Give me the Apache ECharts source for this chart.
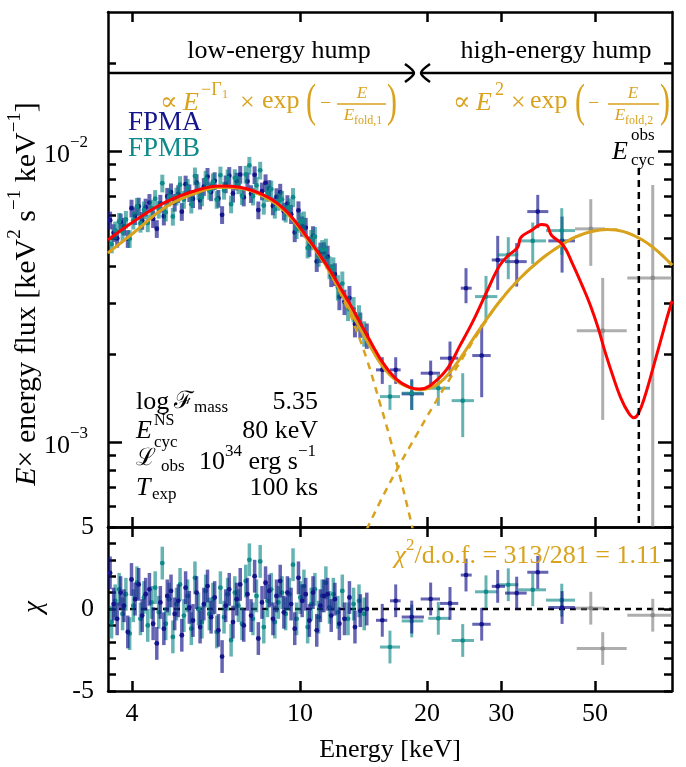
<!DOCTYPE html>
<html><head><meta charset="utf-8">
<script src="https://cdn.jsdelivr.net/npm/echarts@6/dist/echarts.min.js"></script>
<style>html,body{margin:0;padding:0;background:#fff}#c{width:686px;height:767px}</style>
</head><body><div id="c"></div>
<script>
// ---------------- data ----------------
const U = 1e-3; // flux values below are in units of 1e-3 keV^2 s^-1 keV^-1
const xTicks = [4, 10, 20, 30, 50];
const yMajorTicks = [1e-3, 1e-2];
const yMinorTicks = [6e-4, 7e-4, 8e-4, 9e-4, 2e-3, 3e-3, 4e-3, 5e-3, 6e-3, 7e-3, 8e-3, 9e-3, 2e-2];
const residTickLabels = [-5, 0, 5];
const X_MIN = 3.51, X_MAX = 76.1, Y_MIN = 5.1e-4, Y_MAX = 3.0e-2;
const eCycObs = 63.5;

const modelRedE = [3.51,4.03,4.83,5.80,6.46,7.21,8.34,9.30,10.37,11.57,12.44,13.13,13.87,14.93,15.76,16.94,18.20,19.20,20.32,22.25,23.97,25.74,27.76,29.67,31.06,32.78,33.40,35.35,37.32,38.36,39.43,42.07,44.21,46.61,48.74,50.93,52.76,55.0,57.5,60.0,61.8,63.3,65.5,68.74,73.95,76.12];
const modelRedF = [4.94,5.71,6.69,7.38,7.58,7.50,6.97,6.19,5.08,4.05,3.40,2.98,2.58,2.12,1.86,1.64,1.54,1.52,1.56,1.77,2.15,2.61,3.30,4.02,4.35,4.66,5.05,5.33,5.58,5.56,5.13,4.73,4.10,3.45,2.95,2.45,2.05,1.70,1.42,1.26,1.21,1.25,1.42,1.81,2.65,3.05];
const modelGoldE = [3.51,4.03,4.83,5.80,6.46,7.21,8.34,9.30,10.37,11.57,12.90,13.87,14.70,15.47,16.30,17.26,18.30,19.25,20.30,21.47,22.70,23.94,26.71,29.78,33.21,37.32,41.32,44.86,49.0,53.5,58.5,64.61,70.0,76.12];
const modelGoldF = [4.46,5.22,6.44,7.25,7.50,7.44,6.88,6.11,5.01,4.00,3.00,2.45,2.12,1.87,1.70,1.59,1.53,1.51,1.53,1.60,1.74,1.93,2.45,3.05,3.65,4.25,4.72,5.05,5.28,5.37,5.28,4.95,4.55,4.05];
const lowCompE = [3.51,4.03,4.83,5.80,6.46,7.21,8.34,9.30,10.37,11.57,12.90,13.38,14.39,15.47,16.34,17.26,18.23,18.56];
const lowCompF = [4.46,5.22,6.44,7.25,7.50,7.44,6.88,6.11,5.01,3.98,2.92,2.58,1.93,1.36,1.03,0.76,0.55,0.49];
const highCompE = [14.39,15.76,17.26,18.91,20.70,22.67,24.38,26.71,29.78,33.21,37.32,41.32,44.86,49.0,53.5,58.5,64.61,70.0,76.12];
const highCompF = [0.50,0.655,0.84,1.06,1.33,1.65,1.96,2.42,3.05,3.65,4.25,4.72,5.05,5.28,5.37,5.28,4.95,4.55,4.05];

// FPMA, densely binned part
const fpmaDenseE = [3.55,3.62,3.69,3.76,3.83,3.91,3.99,4.07,4.15,4.23,4.31,4.40,4.49,4.58,4.67,4.76,4.85,4.95,5.05,5.15,5.25,5.36,5.47,5.58,5.69,5.80,5.92,6.04,6.16,6.28,6.41,6.54,6.67,6.80,6.94,7.08,7.22,7.36,7.51,7.66,7.81,7.97,8.13,8.29,8.46,8.63,8.80,8.98,9.16,9.34,9.53,9.72,9.92,10.12,10.32,10.53,10.74,10.96,11.18,11.40,11.63,11.86,12.10,12.40,12.75,13.10,13.50,13.90,14.40];
const fpmaDenseF = [5.78,5.23,5.00,5.69,5.50,4.99,6.35,5.98,6.45,5.76,6.40,6.64,5.84,5.40,6.60,5.96,6.97,7.22,6.65,7.12,6.18,7.68,7.17,6.84,7.77,6.76,7.53,8.16,7.22,7.89,6.86,6.03,7.69,8.22,7.14,7.86,8.29,6.93,7.86,7.12,8.27,6.26,7.27,7.76,7.41,6.46,6.95,7.20,6.20,6.58,6.06,5.25,6.24,5.51,5.45,4.70,5.10,4.17,4.48,4.49,4.33,3.74,3.77,3.15,3.03,3.12,2.54,2.53,2.32];
const fpmaDenseRelErr = [0.07,0.07,0.07,0.07,0.07,0.07,0.07,0.07,0.07,0.07,0.07,0.07,0.07,0.07,0.07,0.07,0.07,0.07,0.07,0.07,0.07,0.07,0.07,0.07,0.07,0.07,0.07,0.07,0.07,0.07,0.07,0.07,0.07,0.07,0.07,0.07,0.07,0.07,0.07,0.07,0.07,0.07,0.07,0.07,0.07,0.07,0.07,0.07,0.07,0.07,0.075,0.075,0.075,0.08,0.08,0.08,0.08,0.08,0.08,0.08,0.09,0.09,0.09,0.10,0.10,0.10,0.10,0.10,0.10];
const fpmaDenseChi = [2.2,0.3,-0.6,1.0,0.2,-1.4,1.8,0.6,1.5,-0.4,0.9,1.2,-0.9,-2.1,0.4,-1.2,0.8,1.1,-0.3,0.5,-1.6,1.3,0.1,-0.7,1.0,-1.1,0.3,1.4,-0.5,0.7,-1.3,-2.9,0.2,1.2,-0.8,0.6,1.5,-1.0,0.9,-0.4,2.0,-1.8,0.4,1.6,1.1,-0.6,0.8,1.7,-0.2,1.0,0.3,-1.2,1.9,0.5,0.9,-0.7,1.0,-1.3,0.2,0.8,0.9,-0.4,0.6,-0.9,-0.6,0.7,-1.1,-0.1,0.0];

// FPMA, wide bins
const fpmaBinE   = [15.67,16.86,18.40,20.40,22.67,24.74,26.95,29.41,32.62,36.59,41.78];
const fpmaBinElo = [15.14,16.34,17.42,19.32,21.47,24.04,25.60,28.47,30.60,34.56,38.76];
const fpmaBinEhi = [16.10,17.32,19.67,21.47,23.72,25.52,28.31,30.60,34.45,38.76,44.84];
const fpmaBinF   = [1.768,1.768,1.462,1.722,1.939,3.374,1.980,4.219,4.163,6.185,4.905];
const fpmaBinFlo = [1.582,1.582,1.288,1.529,1.676,2.996,1.424,3.329,3.417,5.425,3.817];
const fpmaBinFhi = [1.954,1.954,1.642,1.902,2.212,3.953,2.523,5.104,4.817,7.060,5.946];
const fpmaBinChi = [-0.69,0.5,-0.49,0.61,0.34,2.07,-0.93,1.38,0.97,2.24,0.09];

// FPMB, densely binned part
const fpmbDenseE = [3.58,3.65,3.73,3.80,3.87,3.95,4.03,4.11,4.19,4.27,4.36,4.45,4.54,4.63,4.72,4.81,4.90,5.00,5.10,5.20,5.31,5.42,5.53,5.64,5.75,5.86,5.98,6.10,6.22,6.35,6.48,6.61,6.74,6.87,7.01,7.15,7.29,7.44,7.59,7.74,7.89,8.05,8.21,8.38,8.55,8.72,8.89,9.07,9.25,9.44,9.63,9.82,10.02,10.22,10.43,10.64,10.85,11.07,11.29,11.52,11.75,12.00,12.30,12.60,13.00,13.40,13.80,14.20];
const fpmbDenseF = [4.78,5.34,5.72,5.26,5.81,4.99,5.77,6.44,5.63,6.26,5.65,6.35,6.85,6.29,7.74,6.15,6.93,5.95,6.98,7.65,6.80,7.48,6.55,8.19,7.29,6.94,7.98,7.30,7.82,6.80,8.25,7.31,8.06,6.56,8.08,7.63,7.01,8.30,8.91,6.98,7.61,8.57,6.49,7.18,7.38,6.29,6.69,6.81,6.10,6.41,6.93,5.38,5.69,5.73,4.64,4.95,5.07,4.34,4.57,4.58,3.98,3.95,3.40,3.50,2.89,2.86,2.68,2.36];
const fpmbDenseRelErr = [0.07,0.07,0.07,0.07,0.07,0.07,0.07,0.07,0.07,0.07,0.07,0.07,0.07,0.07,0.07,0.07,0.07,0.07,0.07,0.07,0.07,0.07,0.07,0.07,0.07,0.07,0.07,0.07,0.07,0.07,0.07,0.07,0.07,0.07,0.07,0.07,0.07,0.07,0.07,0.07,0.07,0.07,0.07,0.07,0.07,0.07,0.07,0.07,0.07,0.07,0.075,0.075,0.08,0.08,0.08,0.08,0.08,0.08,0.08,0.09,0.09,0.09,0.10,0.10,0.10,0.10,0.10,0.10];
const fpmbDenseChi = [-0.8,0.5,1.2,-0.3,0.9,-1.5,0.2,1.6,-0.6,0.7,-1.0,0.4,1.3,-0.2,2.8,-0.9,0.6,-1.7,0.3,1.5,-0.4,0.8,-1.2,1.9,0.0,-0.8,1.1,-0.3,0.6,-1.4,1.3,-0.5,0.9,-1.9,1.0,0.2,-0.9,1.7,3.0,-0.6,0.8,2.9,-1.1,0.5,1.2,-0.8,0.4,1.0,-0.3,0.9,2.7,-0.6,0.7,1.4,-1.1,0.3,1.2,-0.5,0.8,1.6,0.1,0.9,-0.2,1.1,-0.6,0.3,0.5,-0.3];

// FPMB, wide bins
const fpmbBinE   = [16.34,18.40,21.27,24.30,27.59,31.16,35.60,41.71];
const fpmbBinElo = [15.47,17.42,20.14,22.88,25.98,29.35,32.90,38.28];
const fpmbBinEhi = [17.26,19.60,22.67,25.84,29.35,32.90,38.28,44.84];
const fpmbBinF   = [1.431,1.470,1.529,1.386,3.157,4.391,4.905,5.322];
const fpmbBinFlo = [1.288,1.288,1.330,1.038,2.625,3.623,4.089,4.391];
const fpmbBinFhi = [1.570,1.630,1.699,1.722,3.718,5.051,5.671,6.354];
const fpmbBinChi = [-2.32,-0.73,-0.57,-1.92,1.05,1.48,1.17,0.54];

// combined high-energy bins (grey)
const greyE   = [48.86,52.15,68.51];
const greyElo = [44.84,45.26,59.64];
const greyEhi = [52.81,59.45,81.7];
const greyF   = [5.395,2.411,3.660];
const greyFlo = [4.025,1.190,0.30];
const greyFhi = [6.823,3.660,7.640];
const greyChi = [0.05,-2.41,-0.38];

// ---------------- styling ----------------
const FF = '"Liberation Serif","DejaVu Serif",serif';
const GOLD = '#d9a21c';
const NAVY = '#14148c', TEAL = '#0f8a8a';
const NAVY_BAR = 'rgba(20,20,140,0.66)', TEAL_BAR = 'rgba(0,128,128,0.6)';
const GREY_BAR = 'rgba(120,120,120,0.6)', GREY_DOT = '#8a8a8a';

const denseRows = (E, F, R) => E.map((e, i) => [e, F[i]*U, F[i]*U*(1-R[i]), F[i]*U*(1+R[i]), e, e]);
const binRows = (E, Elo, Ehi, F, Flo, Fhi) => E.map((e, i) => [e, F[i]*U, Flo[i]*U, Fhi[i]*U, Elo[i], Ehi[i]]);
const resDense = (E, C) => E.map((e, i) => [e, C[i], e, e]);
const resBin = (E, Elo, Ehi, C) => E.map((e, i) => [e, C[i], Elo[i], Ehi[i]]);
const curve = (E, F) => E.map((e, i) => [e, F[i]*U]);

function errItem(bar, dot, lw, r) {
  return function (params, api) {
    const e = api.value(0), f = api.value(1), flo = api.value(2), fhi = api.value(3), elo = api.value(4), ehi = api.value(5);
    const c = api.coord([e, f]), a = api.coord([e, flo]), b = api.coord([e, fhi]);
    const ch = [{type: 'line', shape: {x1: a[0], y1: a[1], x2: b[0], y2: b[1]}, style: {stroke: bar, lineWidth: lw}}];
    if (ehi > elo) {
      const l = api.coord([elo, f]), rr = api.coord([ehi, f]);
      ch.push({type: 'line', shape: {x1: l[0], y1: l[1], x2: rr[0], y2: rr[1]}, style: {stroke: bar, lineWidth: lw}});
    }
    ch.push({type: 'circle', shape: {cx: c[0], cy: c[1], r: r}, style: {fill: dot}});
    return {type: 'group', children: ch};
  };
}
function resItem(bar, dot, lw, r) {
  return function (params, api) {
    const e = api.value(0), v = api.value(1), elo = api.value(2), ehi = api.value(3);
    const c = api.coord([e, v]), a = api.coord([e, v - 1]), b = api.coord([e, v + 1]);
    const ch = [{type: 'line', shape: {x1: a[0], y1: a[1], x2: b[0], y2: b[1]}, style: {stroke: bar, lineWidth: lw}}];
    if (ehi > elo) {
      const l = api.coord([elo, v]), rr = api.coord([ehi, v]);
      ch.push({type: 'line', shape: {x1: l[0], y1: l[1], x2: rr[0], y2: rr[1]}, style: {stroke: bar, lineWidth: lw}});
    }
    ch.push({type: 'circle', shape: {cx: c[0], cy: c[1], r: r}, style: {fill: dot}});
    return {type: 'group', children: ch};
  };
}
function customSeries(data, render, xi, yi, z) {
  return {type: 'custom', xAxisIndex: xi, yAxisIndex: yi, data: data, renderItem: render, clip: true, silent: true, z: z, encode: {x: 0, y: 1}};
}
function lineSeries(data, color, width, type, z) {
  return {type: 'line', xAxisIndex: 0, yAxisIndex: 0, data: data, showSymbol: false, symbol: 'none', silent: true,
    smooth: 0.4, clip: true, z: z, lineStyle: {color: color, width: width, type: type}};
}

const axLine = {show: true, onZero: false, lineStyle: {color: '#000', width: 2.5}};
function xAx(grid, pos, labels) {
  return {type: 'log', logBase: 10, gridIndex: grid, position: pos, min: X_MIN, max: X_MAX,
    axisLine: axLine, splitLine: {show: false},
    axisTick: {show: true, inside: true, length: 10, customValues: xTicks, lineStyle: {color: '#000', width: 2.5}},
    axisLabel: labels ? {show: true, customValues: xTicks, margin: 10, color: '#000', fontFamily: FF, fontSize: 26,
      formatter: v => String(Math.round(v))} : {show: false},
    name: labels ? 'Energy [keV]' : '', nameLocation: 'middle', nameGap: 46,
    nameTextStyle: {color: '#000', fontFamily: FF, fontSize: 26}};
}
function yLog(pos, ticks, len, labels, line) {
  return {type: 'log', logBase: 10, gridIndex: 0, position: pos, min: Y_MIN, max: Y_MAX,
    axisLine: line ? axLine : {show: false, onZero: false}, splitLine: {show: false},
    axisTick: {show: true, inside: true, length: len, customValues: ticks, lineStyle: {color: '#000', width: 2.5}},
    axisLabel: labels ? {show: true, customValues: yMajorTicks, margin: 20, color: '#000',
      formatter: v => '{b|10}{s|−' + Math.round(-Math.log10(v)) + '}',
      rich: {b: {fontFamily: FF, fontSize: 26, lineHeight: 34, verticalAlign: 'bottom'},
             s: {fontFamily: FF, fontSize: 17, lineHeight: 17, verticalAlign: 'top'}}} : {show: false}};
}
function yRes(pos, labels) {
  return {type: 'value', gridIndex: 1, position: pos, min: -5, max: 5, interval: 1,
    axisLine: axLine, splitLine: {show: false},
    axisTick: {show: true, inside: true, length: 8, lineStyle: {color: '#000', width: 2.5}},
    axisLabel: labels ? {show: true, customValues: residTickLabels, margin: 14, color: '#000', fontFamily: FF, fontSize: 26,
      formatter: v => (v < 0 ? '-' + Math.abs(v) : String(v))} : {show: false}};
}

// ---------------- annotations ----------------
function T(text, x, y, size, color, o) {
  o = o || {};
  const st = {text: text, fill: color, fontFamily: FF, fontSize: size, fontStyle: o.italic ? 'italic' : 'normal',
    align: o.align || 'left', textAlign: o.align || 'left', verticalAlign: 'middle', textVerticalAlign: 'middle'};
  if (o.rich) st.rich = o.rich;
  return {type: 'text', x: x, y: y, rotation: o.rot || 0, scaleX: o.sx || 1, scaleY: o.sy || 1, z: 200, silent: true, style: st};
}
function rs(size, extra) { return Object.assign({fontFamily: FF, fontSize: size}, extra || {}); }
const K = '#000';
const fracRich = {i: rs(17, {fontStyle: 'italic', lineHeight: 20, verticalAlign: 'top'}), s: rs(12, {lineHeight: 12, verticalAlign: 'bottom'})};
const graphics = [
  T('low-energy hump', 279, 51, 26, K, {align: 'center'}),
  T('high-energy hump', 556, 51, 26, K, {align: 'center'}),
  {type: 'line', z: 200, silent: true, shape: {x1: 108, y1: 73, x2: 414, y2: 73}, style: {stroke: K, lineWidth: 2.5}},
  {type: 'line', z: 200, silent: true, shape: {x1: 421, y1: 73, x2: 672, y2: 73}, style: {stroke: K, lineWidth: 2.5}},
  {type: 'polyline', z: 200, silent: true, shape: {points: [[405, 64], [414, 73], [405, 82]], smooth: 0.3}, style: {stroke: K, lineWidth: 2.5, fill: null}},
  {type: 'polyline', z: 200, silent: true, shape: {points: [[430, 64], [421, 73], [430, 82]], smooth: 0.3}, style: {stroke: K, lineWidth: 2.5, fill: null}},
  // left formula
  T('∝', 160, 103, 26, GOLD),
  T('E', 183, 103, 26, GOLD, {italic: true}),
  T('−Γ', 201, 90, 18, GOLD),
  T('1', 222, 95, 12, GOLD),
  T('×', 240, 103, 26, GOLD),
  T('exp', 262, 101, 26, GOLD),
  T('(', 306, 104, 30, GOLD, {sy: 1.55}),
  T('−', 320, 104, 20, GOLD),
  {type: 'line', z: 200, silent: true, shape: {x1: 337, y1: 104, x2: 386, y2: 104}, style: {stroke: GOLD, lineWidth: 1.3}},
  T('E', 362, 94, 17, GOLD, {italic: true, align: 'center'}),
  T('{i|E}{s|fold,1}', 363, 117, 17, GOLD, {align: 'center', rich: fracRich}),
  T(')', 387, 104, 30, GOLD, {sy: 1.55}),
  // right formula
  T('∝', 453, 103, 26, GOLD),
  T('E', 476, 103, 26, GOLD, {italic: true}),
  T('2', 495, 90, 18, GOLD),
  T('×', 511, 103, 26, GOLD),
  T('exp', 530, 101, 26, GOLD),
  T('(', 575, 104, 30, GOLD, {sy: 1.55}),
  T('−', 588, 104, 20, GOLD),
  {type: 'line', z: 200, silent: true, shape: {x1: 608, y1: 104, x2: 659, y2: 104}, style: {stroke: GOLD, lineWidth: 1.3}},
  T('E', 633, 94, 17, GOLD, {italic: true, align: 'center'}),
  T('{i|E}{s|fold,2}', 634, 117, 17, GOLD, {align: 'center', rich: fracRich}),
  T(')', 660, 104, 30, GOLD, {sy: 1.55}),
  // legend
  T('FPMA', 128, 123, 27, NAVY),
  T('FPMB', 128, 149, 27, TEAL),
  // E_cyc^obs
  T('E', 612, 152, 26, K, {italic: true}),
  T('obs', 631, 136, 17, K),
  T('cyc', 631, 161, 17, K),
  // parameter block
  T('log', 136, 402, 26, K),
  T('ℱ', 174, 402, 24, K),
  T('mass', 194, 408, 17, K),
  T('5.35', 318, 402, 26, K, {align: 'right'}),
  T('E', 136, 431, 26, K, {italic: true}),
  T('NS', 154, 421, 16, K),
  T('cyc', 154, 443, 17, K),
  T('80 keV', 318, 431, 26, K, {align: 'right'}),
  T('ℒ', 136, 459, 24, K),
  T('obs', 161, 467, 17, K),
  T('{b|10}{s|34}{b| erg s}{s|−1}', 316, 459, 26, K, {align: 'right', rich: {b: rs(26, {lineHeight: 32, verticalAlign: 'bottom'}), s: rs(17, {lineHeight: 17, verticalAlign: 'top'})}}),
  T('T', 136, 488, 26, K, {italic: true}),
  T('exp', 152, 495, 17, K),
  T('100 ks', 318, 488, 26, K, {align: 'right'}),
  // chi2
  T('{i|χ}{s|2}{b|/d.o.f. = 313/281 = 1.11}', 661, 553, 26, GOLD, {align: 'right', rich: {i: rs(26, {fontStyle: 'italic', lineHeight: 32, verticalAlign: 'bottom', color: GOLD}), s: rs(17, {lineHeight: 17, verticalAlign: 'top', color: GOLD}), b: rs(26, {lineHeight: 32, verticalAlign: 'bottom', color: GOLD})}}),
  // y titles
  T('{i|E}{b|× energy flux [keV}{s|2}{b| s}{s|−1}{b| keV}{s|−1}{b|]}', 24, 294, 30, K, {align: 'center', rot: Math.PI / 2,
    rich: {i: rs(30, {fontStyle: 'italic', lineHeight: 36, verticalAlign: 'bottom'}), b: rs(30, {lineHeight: 36, verticalAlign: 'bottom'}), s: rs(19, {lineHeight: 19, verticalAlign: 'top'})}}),
  T('χ', 34, 607, 27, K, {italic: true, align: 'center', rot: Math.PI / 2})
];

// ---------------- chart ----------------
const chart = echarts.init(document.getElementById('c'), null, {renderer: 'canvas'});
chart.setOption({
  animation: false,
  backgroundColor: '#fff',
  grid: [
    {left: 108, top: 12, width: 564, height: 515, containLabel: false},
    {left: 108, top: 527, width: 564, height: 164, containLabel: false}
  ],
  xAxis: [xAx(0, 'bottom', false), xAx(0, 'top', false), xAx(1, 'bottom', true), xAx(1, 'top', false)],
  yAxis: [
    yLog('left', yMajorTicks, 14, true, true),
    yLog('left', yMinorTicks, 8, false, false),
    yLog('right', yMajorTicks, 14, false, true),
    yLog('right', yMinorTicks, 8, false, false),
    yRes('left', true),
    yRes('right', false)
  ],
  graphic: graphics,
  series: [
    customSeries(denseRows(fpmaDenseE, fpmaDenseF, fpmaDenseRelErr), errItem(NAVY_BAR, NAVY, 4, 2.4), 0, 0, 2),
    customSeries(binRows(fpmaBinE, fpmaBinElo, fpmaBinEhi, fpmaBinF, fpmaBinFlo, fpmaBinFhi), errItem(NAVY_BAR, NAVY, 3, 2.3), 0, 0, 2),
    customSeries(denseRows(fpmbDenseE, fpmbDenseF, fpmbDenseRelErr), errItem(TEAL_BAR, TEAL, 4, 2.4), 0, 0, 3),
    customSeries(binRows(fpmbBinE, fpmbBinElo, fpmbBinEhi, fpmbBinF, fpmbBinFlo, fpmbBinFhi), errItem(TEAL_BAR, TEAL, 3, 2.3), 0, 0, 3),
    customSeries(binRows(greyE, greyElo, greyEhi, greyF, greyFlo, greyFhi), errItem(GREY_BAR, GREY_DOT, 3, 2.3), 0, 0, 3),
    lineSeries(curve(lowCompE, lowCompF), GOLD, 2.5, [7, 6], 5),
    lineSeries(curve(highCompE, highCompF), GOLD, 2.5, [7, 6], 5),
    lineSeries(curve(modelGoldE, modelGoldF), GOLD, 3, 'solid', 6),
    lineSeries(curve(modelRedE, modelRedF), '#ff0000', 3, 'solid', 7),
    {type: 'line', xAxisIndex: 0, yAxisIndex: 0, data: [[eCycObs, 8.74e-3], [eCycObs, Y_MIN]], showSymbol: false, symbol: 'none', silent: true, z: 8,
      lineStyle: {color: '#000', width: 2.5, type: [7, 5]}},
    // residuals
    {type: 'line', xAxisIndex: 2, yAxisIndex: 4, data: [[X_MIN, 0], [X_MAX, 0]], showSymbol: false, symbol: 'none', silent: true, z: 1,
      lineStyle: {color: '#000', width: 2.5, type: [6, 5]}},
    customSeries(resDense(fpmbDenseE, fpmbDenseChi), resItem(TEAL_BAR, TEAL, 3.5, 2.4), 2, 4, 2),
    customSeries(resBin(fpmbBinE, fpmbBinElo, fpmbBinEhi, fpmbBinChi), resItem(TEAL_BAR, TEAL, 3, 2.3), 2, 4, 2),
    customSeries(resDense(fpmaDenseE, fpmaDenseChi), resItem(NAVY_BAR, NAVY, 3.5, 2.4), 2, 4, 3),
    customSeries(resBin(fpmaBinE, fpmaBinElo, fpmaBinEhi, fpmaBinChi), resItem(NAVY_BAR, NAVY, 3, 2.3), 2, 4, 3),
    customSeries(resBin(greyE, greyElo, greyEhi, greyChi), resItem(GREY_BAR, GREY_DOT, 3, 2.3), 2, 4, 3)
  ]
});
</script></body></html>
